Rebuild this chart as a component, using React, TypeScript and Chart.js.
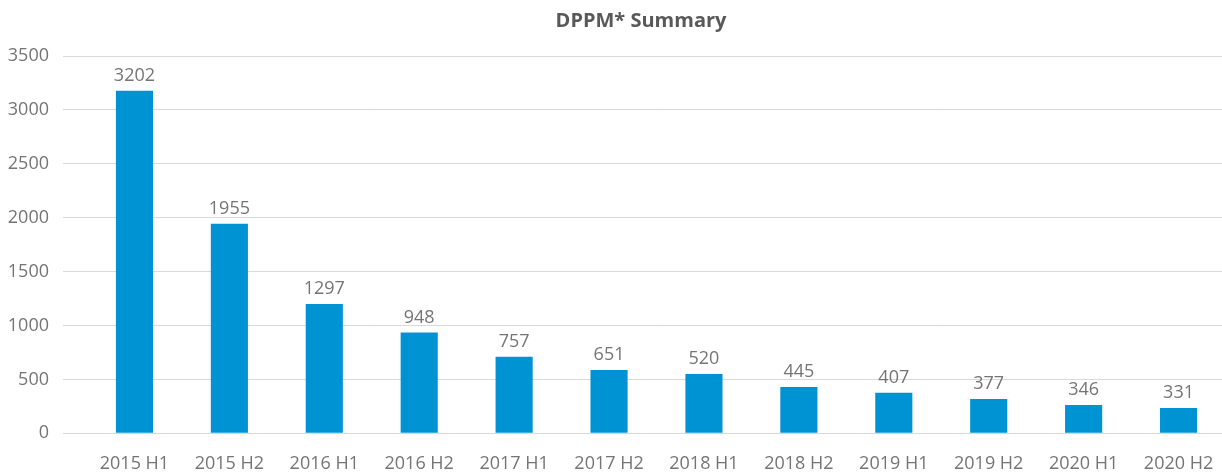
import React, { useEffect, useRef } from "react";
import { Chart, registerables } from "chart.js";

Chart.register(...registerables);

const categories = [
  "2015 H1", "2015 H2", "2016 H1", "2016 H2", "2017 H1", "2017 H2",
  "2018 H1", "2018 H2", "2019 H1", "2019 H2", "2020 H1", "2020 H2",
];
// bar heights as drawn in the reference
const barValues = [3178, 1943, 1200, 934, 711, 588, 551, 430, 377, 318, 263, 235];
// value labels printed above the bars
const valueLabels = ["3202", "1955", "1297", "948", "757", "651", "520", "445", "407", "377", "346", "331"];
const titleText = "DPPM* Summary";
const yMax = 3500;
const yStep = 500;

const FONT = "'Open Sans', 'Noto Sans', sans-serif";

export default function App() {
  const ref = useRef<HTMLCanvasElement | null>(null);

  useEffect(() => {
    if (!ref.current) return;
    const labelPlugin = {
      id: "valueLabels",
      afterDatasetsDraw(chart: any) {
        const ctx = chart.ctx;
        const meta = chart.getDatasetMeta(0);
        ctx.save();
        ctx.font = `18px ${FONT}`;
        ctx.fillStyle = "#757575";
        ctx.textAlign = "center";
        ctx.textBaseline = "alphabetic";
        meta.data.forEach((el: any, i: number) => {
          ctx.fillText(valueLabels[i], el.x, el.y - 10);
        });
        ctx.restore();
      },
    };
    const titlePlugin = {
      id: "customTitle",
      afterDraw(chart: any) {
        const ctx = chart.ctx;
        ctx.save();
        ctx.font = `bold 20px ${FONT}`;
        ctx.fillStyle = "#595959";
        ctx.textAlign = "center";
        ctx.textBaseline = "alphabetic";
        ctx.fillText(titleText, 641, 27);
        ctx.restore();
      },
    };
    const chart = new Chart(ref.current, {
      type: "bar",
      data: {
        labels: categories,
        datasets: [
          {
            data: barValues,
            backgroundColor: "#0093d3",
            barPercentage: 0.391,
            categoryPercentage: 1,
          },
        ],
      },
      options: {
        responsive: false,
        animation: false,
        layout: { padding: { top: 56, bottom: 0, left: 0, right: 0 } },
        plugins: {
          legend: { display: false },
          title: { display: false },
          tooltip: { enabled: false },
        },
        scales: {
          x: {
            grid: { display: false, drawTicks: false },
            border: { display: false },
            afterFit(scale: any) {
              scale.height = 38.7;
              scale.paddingLeft = 0;
              scale.paddingRight = 0;
            },
            ticks: {
              color: "#757575",
              font: { family: FONT, size: 18 },
              padding: 20,
              maxRotation: 0,
              autoSkip: false,
            },
          },
          y: {
            min: 0,
            max: yMax,
            afterFit(scale: any) {
              scale.width = 87;
            },
            grid: {
              color: "#d9d9d9",
              lineWidth: 1,
              drawTicks: true,
              tickLength: 24,
            },
            border: { display: false },
            ticks: {
              stepSize: yStep,
              color: "#757575",
              font: { family: FONT, size: 18 },
              padding: 14,
              callback: (v: any) => String(v),
            },
          },
        },
      },
      plugins: [labelPlugin, titlePlugin],
    });
    return () => chart.destroy();
  }, []);

  return (
    <div style={{ position: "absolute", left: 0, top: 0, width: 1222, height: 472, overflow: "hidden", background: "#fff" }}>
      <canvas ref={ref} width={1226} height={472} style={{ display: "block" }} />
    </div>
  );
}
